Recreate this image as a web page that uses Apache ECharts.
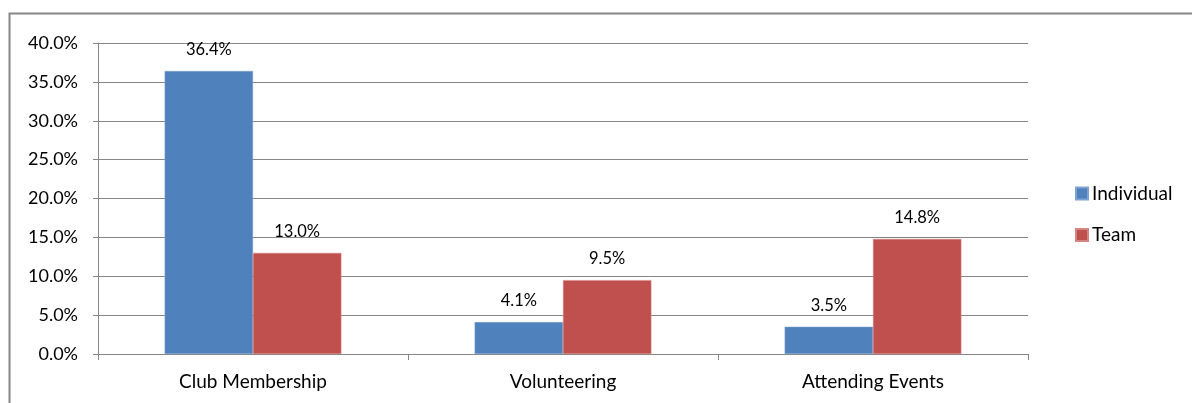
<!DOCTYPE html>
<html>
<head>
<meta charset="utf-8">
<script src="https://cdn.jsdelivr.net/npm/echarts@6/dist/echarts.min.js"></script>
<style>
html,body{margin:0;padding:0;background:#fff;}
#chart{width:1192px;height:403px;}
</style>
</head>
<body>
<div id="chart"></div>
<script>
const categories = ["Club Membership", "Volunteering", "Attending Events"];
const individual = [36.4, 4.1, 3.5];
const team = [13.0, 9.5, 14.8];
const seriesNames = ["Individual", "Team"];

const FONT = "Lato, 'Open Sans', sans-serif";
const chart = echarts.init(document.getElementById('chart'));
const labelOpt = {
  show: true, position: 'top', distance: 13,
  formatter: p => p.value.toFixed(1) + '%',
  fontFamily: FONT, fontSize: 16.5, color: '#000'
};
chart.setOption({
  animation: false,
  graphic: [{
    type: 'polyline',
    shape: { points: [[9.5, 420], [9.5, 13.5], [1200, 13.5]] },
    style: { stroke: '#868686', lineWidth: 2, fill: null },
    silent: true
  }],
  grid: { left: 98, right: 164, top: 43, bottom: 49, containLabel: false },
  legend: {
    orient: 'vertical', left: 1070, top: 179,
    itemWidth: 12, itemHeight: 12, itemGap: 22.5,
    icon: 'rect',
    textStyle: { fontFamily: FONT, fontSize: 19, color: '#000', padding: [0, 0, 0, -1] },
    data: seriesNames
  },
  xAxis: {
    type: 'category', data: categories,
    axisLine: { lineStyle: { color: '#868686', width: 1 } },
    axisTick: { show: true, length: 6, lineStyle: { color: '#868686' } },
    axisLabel: { fontFamily: FONT, fontSize: 19, color: '#000', margin: 18 }
  },
  yAxis: {
    type: 'value', min: 0, max: 40, interval: 5,
    axisLine: { show: true, lineStyle: { color: '#868686' } },
    axisTick: { show: true, length: 5, lineStyle: { color: '#868686' } },
    splitLine: { lineStyle: { color: '#868686', width: 1 } },
    axisLabel: { fontFamily: FONT, fontSize: 18, color: '#000', margin: 20,
      formatter: v => v.toFixed(1) + '%' }
  },
  series: [
    { name: seriesNames[0], type: 'bar', data: individual, barGap: '0%', barCategoryGap: '43%',
      itemStyle: { color: '#4F81BD', borderColor: '#7fa3d0', borderWidth: 0.5 }, label: labelOpt },
    { name: seriesNames[1], type: 'bar', data: team, barGap: '0%', barCategoryGap: '43%',
      itemStyle: { color: '#C0504D', borderColor: '#d48482', borderWidth: 0.5 }, label: labelOpt }
  ]
});
</script>
</body>
</html>
